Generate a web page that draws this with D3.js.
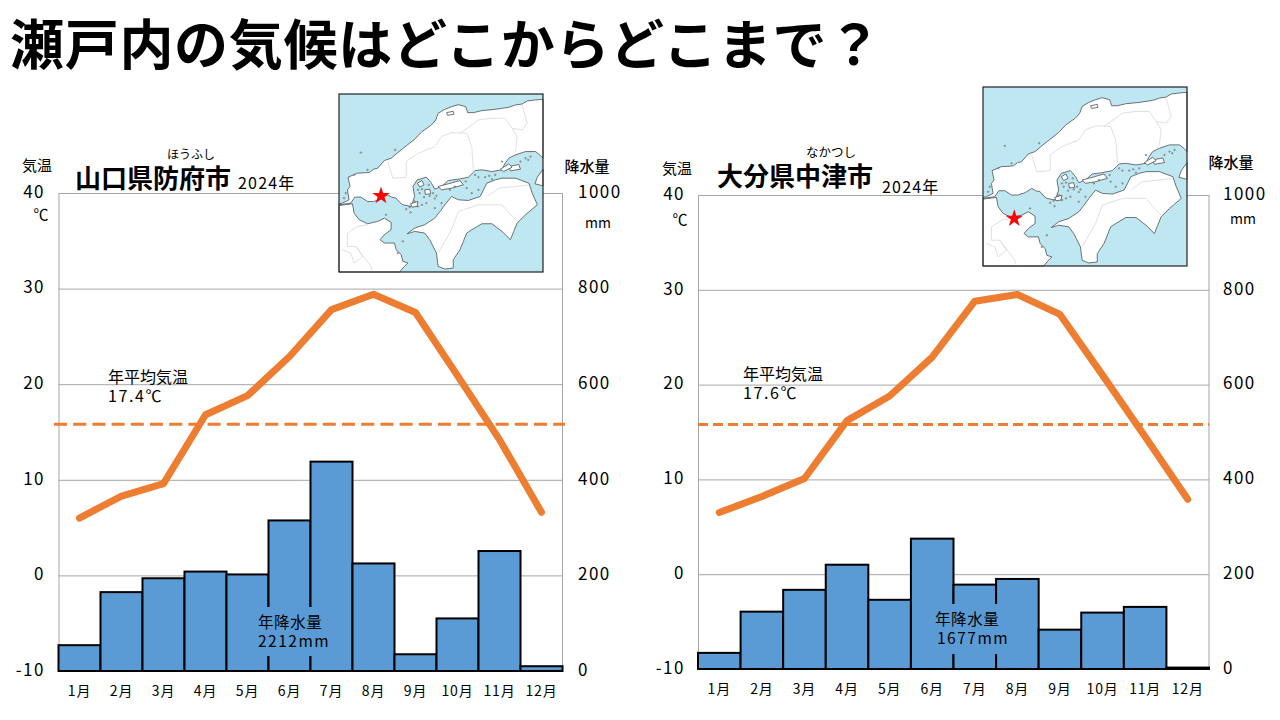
<!DOCTYPE html>
<html lang="ja"><head><meta charset="utf-8">
<script src="https://d3js.org/d3.v7.min.js"></script>
<style>
html,body{margin:0;padding:0;background:#fff}
svg{display:block}
text{font-family:"Noto Sans CJK JP","Noto Sans",sans-serif;fill:#000}
</style></head><body><svg id="c" width="1280" height="720"></svg>
<script>
const months=["1月","2月","3月","4月","5月","6月","7月","8月","9月","10月","11月","12月"];
const tempTicks=[-10,0,10,20,30,40];
const rainTicks=[0,200,400,600,800,1000];

const hofuTemp=[6.0,8.3,9.6,16.8,18.8,22.9,27.8,29.4,27.5,20.9,14.2,6.6];
const hofuRain=[54,165,194,208,202,315,438,225,35,110,251,10];
const nakatsuTemp=[6.5,8.2,10.1,16.2,18.8,22.9,28.8,29.5,27.4,21.0,14.5,7.9];
const nakatsuRain=[34,121,167,220,146,275,178,190,83,119,131,3];
const hofuMeanDrawn=15.8, nakatsuMeanDrawn=15.8;

// Map outlines, in map units
const landPolys=[
 [[622,28],[598,30],[575,33],[560,42],[540,45],[520,52],[480,58],[440,62],[415,68],[398,68],[392,50],[370,44],[350,50],[330,58],[310,70],[303,90],[290,105],[262,125],[240,148],[215,168],[190,188],[170,205],[150,212],[130,235],[118,238],[105,248],[70,250],[42,262],[48,290],[40,300],[45,330],[25,340],[15,342],[15,345],[50,340],[62,322],[80,322],[100,335],[118,335],[140,328],[160,315],[172,322],[185,325],[196,338],[205,345],[230,350],[240,320],[235,290],[248,270],[275,262],[284,272],[290,280],[300,298],[320,290],[340,272],[370,268],[400,262],[412,250],[420,242],[440,240],[470,245],[500,240],[508,222],[520,205],[540,195],[570,185],[600,185],[612,195],[622,205]],
 [[15,347],[55,342],[60,370],[75,390],[100,402],[130,395],[150,385],[170,398],[170,420],[150,435],[137,450],[150,460],[180,460],[185,480],[200,495],[205,515],[220,520],[210,530],[195,547],[15,547]],
 [[300,385],[318,362],[330,345],[350,320],[370,330],[400,332],[435,320],[445,300],[455,280],[480,270],[500,265],[540,265],[580,280],[590,310],[605,345],[570,375],[545,400],[535,425],[525,450],[500,425],[470,402],[440,402],[410,420],[395,430],[385,455],[375,480],[355,510],[355,535],[330,538],[310,530],[305,490],[285,450],[270,430],[240,425],[218,432],[240,415],[270,405]],
 [[622,238],[605,262],[598,282],[622,288]],
 [[520,230],[550,224],[555,238],[525,243]],
 [[335,68],[355,64],[357,73],[338,76]],
 [[228,342],[250,335],[247,350],[232,352]],
 [[310,290],[340,282],[375,272],[385,285],[350,295],[320,300]],
 [[495,238],[520,222],[530,232],[505,245]],
 [[248,280],[262,272],[268,285],[255,292]],
 [[270,300],[285,298],[288,312],[272,314]]
];
const islandDots=[[250,300],[262,298],[282,285],[255,310],[268,322],[285,318],[300,326],[275,340],[250,350],[262,345],[228,368],[300,355],[320,340],[80,188],[182,180],[395,295],[410,310],[430,300],[570,205],[585,200],[578,210],[500,215],[420,255],[450,262],[480,255],[35,310],[30,325],[100,240],[60,255],[155,375],[205,455],[190,490],[295,310],[305,318],[240,335],[215,358],[225,352],[345,300],[360,290],[392,275],[430,262],[462,258],[470,268],[555,215]];
const prefBorders=[
 [[160,215],[175,265],[215,262],[215,215],[250,190],[300,170],[320,140],[350,128],[395,130],[410,170],[415,240]],
 [[375,130],[430,90],[470,85],[510,85],[530,115],[560,120],[575,100],[560,45]],
 [[530,115],[545,140],[540,185]],
 [[455,320],[490,295],[540,290],[580,285]],
 [[310,490],[350,420],[370,365],[430,345],[500,345],[530,380],[545,395]],
 [[25,480],[50,490],[60,520],[85,500],[65,470],[40,470],[40,430],[70,410],[100,405]],
 [[65,470],[110,530],[115,547]]
];
const hofuStar=[140,318], nakatsuStar=[108,405];

const charts=[
 {temp:hofuTemp,rain:hofuRain,mean:hofuMeanDrawn,star:hofuStar,
  x0:58.5,x1:562.5,yTop:193,yBot:671,lineX:[54,565],dash:"13 6.2",
  map:[339,543,94,272],
  leftX:45,rightX:578,
  labels:[
   ["気温",37,166,15,"middle",400,0],["降水量",587,167,15,"middle",500,0],
   ["℃",41,215,15,"middle",400,0],["mm",598,223,14,"middle",400,0],
   ["山口県防府市",153,179,26,"middle",700,0],["2024年",238,183,16,"start",400,1.2],
   ["ほうふし",191,155,12,"middle",400,0],
   ["年平均気温",108,377,16,"start",400,0],["17.4℃",108,396,16,"start",400,1.6]],
  box:[256,607,76,49],
  inBars:[["年降水量",258,622,0.6],["2212mm",258,641,1.5]]},
 {temp:nakatsuTemp,rain:nakatsuRain,mean:nakatsuMeanDrawn,star:nakatsuStar,
  x0:698,x1:1209,yTop:195,yBot:669,lineX:[698,1209],dash:"10 5",
  map:[983,1187,87,266],
  leftX:685,rightX:1223,
  labels:[
   ["気温",677,169,15,"middle",400,0],["降水量",1231,163,15,"middle",500,0],
   ["℃",680,220,15,"middle",400,0],["mm",1243,219,14,"middle",400,0],
   ["大分県中津市",795,177,26,"middle",700,0],["2024年",882,187,16,"start",400,1.2],
   ["なかつし",831,152,12.5,"middle",400,0],
   ["年平均気温",743,374,16,"start",400,0],["17.6℃",743,393,16,"start",400,1.6]],
  box:[933,604,76,50],
  inBars:[["年降水量",935,619,0.6],["1677mm",937,638,1.5]]}
];

const svg=d3.select("#c");
svg.append("text").text("瀬戸内の気候はどこからどこまで？")
  .attr("x",10).attr("y",65).attr("font-size",54).attr("font-weight",700).attr("letter-spacing",0.7);

charts.forEach(c=>{
  const g=svg.append("g");
  const x=d3.scaleBand().domain(months).range([c.x0,c.x1]);
  const yT=d3.scaleLinear().domain([-10,40]).range([c.yBot,c.yTop]);
  const yR=d3.scaleLinear().domain([0,1000]).range([c.yBot,c.yTop]);

  // gridlines & frame
  const grid=g.append("g").attr("transform",`translate(${c.x0},0)`)
    .call(d3.axisLeft(yT).tickValues(tempTicks).tickSize(-(c.x1-c.x0)).tickFormat(""));
  grid.selectAll("line").attr("stroke","#a6a6a6");
  grid.select(".domain").attr("stroke","#a6a6a6");
  g.append("line").attr("x1",c.x1).attr("x2",c.x1).attr("y1",c.yTop).attr("y2",c.yBot).attr("stroke","#a6a6a6");

  // bars
  g.append("g").selectAll("rect").data(c.rain).join("rect")
    .attr("x",(d,i)=>x(months[i])).attr("width",x.bandwidth())
    .attr("y",d=>yR(d)).attr("height",d=>yR(0)-yR(d))
    .attr("fill","#5b9bd5").attr("stroke","#000").attr("stroke-width",2);

  // label box over bars
  g.append("rect").attr("x",c.box[0]).attr("y",c.box[1]).attr("width",c.box[2]).attr("height",c.box[3]).attr("fill","#5b9bd5");
  c.inBars.forEach(t=>g.append("text").text(t[0]).attr("x",t[1]).attr("y",t[2]).attr("dy","0.36em")
     .attr("font-size",15.5).attr("letter-spacing",t[3]));

  // axes text
  const la=g.append("g").attr("transform",`translate(${c.leftX},0)`)
    .call(d3.axisLeft(yT).tickValues(tempTicks).tickSize(0).tickPadding(0).tickFormat(d=>String(d)));
  la.select(".domain").remove();
  la.selectAll("text").attr("font-size",17).attr("letter-spacing",1.5).attr("dy","0.25em");
  const ra=g.append("g").attr("transform",`translate(${c.rightX},0)`)
    .call(d3.axisRight(yR).tickValues(rainTicks).tickSize(0).tickPadding(0).tickFormat(d=>String(d)));
  ra.select(".domain").remove();
  ra.selectAll("text").attr("font-size",17).attr("letter-spacing",1.5).attr("dy","0.25em");
  const ba=g.append("g").attr("transform",`translate(0,${c.yBot+20})`)
    .call(d3.axisBottom(x).tickSize(0).tickPadding(0));
  ba.select(".domain").remove();
  ba.selectAll("text").attr("font-size",14).attr("letter-spacing",0.8).attr("dy","0.36em").attr("y",0);

  // mean line
  g.append("line").attr("x1",c.lineX[0]).attr("x2",c.lineX[1]).attr("y1",yT(c.mean)).attr("y2",yT(c.mean))
    .attr("stroke","#ed7d31").attr("stroke-width",3).attr("stroke-dasharray",c.dash);

  // temperature line
  const line=d3.line().x((d,i)=>x(months[i])+x.bandwidth()/2).y(d=>yT(d));
  g.append("path").attr("d",line(c.temp)).attr("fill","none").attr("stroke","#ed7d31")
    .attr("stroke-width",7).attr("stroke-linecap","round").attr("stroke-linejoin","round");

  // map
  const [mx0,mx1,my0,my1]=c.map;
  const mX=d3.scaleLinear().domain([15,622]).range([mx0,mx1]);
  const mY=d3.scaleLinear().domain([12,547]).range([my0,my1]);
  const mLine=d3.line().x(d=>mX(d[0])).y(d=>mY(d[1]));
  const m=g.append("g");
  m.append("rect").attr("x",mx0).attr("y",my0).attr("width",mx1-mx0).attr("height",my1-my0).attr("fill","#bee7f1");
  m.selectAll("path.land").data(landPolys).join("path").attr("class","land")
    .attr("d",d=>mLine(d)+"Z").attr("fill","#fff").attr("stroke","#4a5256").attr("stroke-width",0.8);
  m.selectAll("path.pref").data(prefBorders).join("path").attr("class","pref")
    .attr("d",d=>mLine(d)).attr("fill","none").attr("stroke","#dcdcdc").attr("stroke-width",0.9);
  m.selectAll("circle").data(islandDots).join("circle")
    .attr("cx",d=>mX(d[0])).attr("cy",d=>mY(d[1])).attr("r",0.7).attr("fill","#fff").attr("stroke","#444").attr("stroke-width",0.6);
  m.append("rect").attr("x",mx0).attr("y",my0).attr("width",mx1-mx0).attr("height",my1-my0)
    .attr("fill","none").attr("stroke","#222").attr("stroke-width",1.2);
  m.append("path").attr("d",d3.symbol(d3.symbolStar,95)())
    .attr("transform",`translate(${mX(c.star[0])},${mY(c.star[1])})`).attr("fill","#ff0000");

  // free labels
  c.labels.forEach(t=>g.append("text").text(t[0]).attr("x",t[1]).attr("y",t[2]).attr("dy","0.36em")
    .attr("font-size",t[3]).attr("text-anchor",t[4]).attr("font-weight",t[5]).attr("letter-spacing",t[6]));
});
</script></body></html>
